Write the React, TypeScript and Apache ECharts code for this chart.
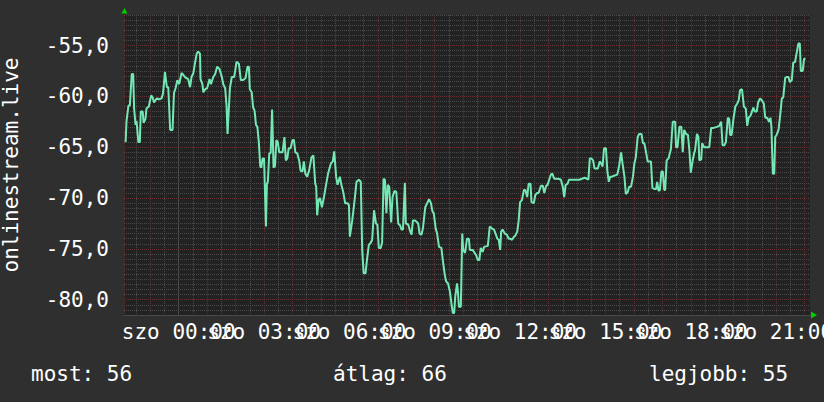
import React, { useEffect, useRef } from "react";
import * as echarts from "echarts";

// minutes relative to Saturday 00:00
const timeMin = [
  -112, -110, -106, -103, -99, -96, -94, -91, -89, -85, -82, -80, -76, -74, -70, -68, -63, -58, -55, -52,
  -48, -45, -41, -36, -33, -29, -25, -22, -18, -13, -10, -6, -3, 1, 6, 10, 13, 20, 24, 27,
  31, 34, 38, 41, 45, 46, 50, 52, 56, 60, 65, 68, 73, 77, 81, 86, 91, 94, 98, 101,
  103, 106, 108, 112, 117, 122, 127, 131, 136, 141, 145, 148, 150, 154, 157, 160, 163, 166, 169, 172,
  174, 177, 180, 184, 186, 188, 191, 194, 197, 200, 203, 206, 209, 212, 219, 223, 226, 229, 232, 236,
  240, 243, 246, 250, 254, 257, 261, 264, 267, 271, 275, 280, 284, 288, 290, 292, 295, 298, 302, 306,
  310, 315, 321, 325, 328, 332, 335, 340, 343, 347, 351, 356, 359, 361, 366, 371, 375, 380, 384, 387,
  390, 394, 397, 401, 405, 408, 412, 416, 419, 422, 426, 429, 432, 435, 438, 441, 444, 448, 451, 455,
  459, 463, 467, 470, 473, 477, 479, 484, 487, 491, 494, 498, 501, 505, 508, 512, 515, 520, 524, 528,
  532, 535, 538, 542, 545, 549, 554, 557, 561, 564, 568, 572, 575, 578, 581, 583, 587, 589, 591, 595,
  598, 600, 604, 608, 612, 614, 620, 627, 631, 634, 637, 641, 644, 652, 656, 661, 665, 669, 672, 675,
  678, 680, 683, 688, 692, 696, 699, 703, 707, 710, 714, 717, 720, 724, 728, 731, 735, 738, 742, 744,
  749, 752, 756, 759, 764, 768, 771, 775, 778, 782, 785, 788, 792, 796, 801, 806, 810, 813, 816, 820,
  823, 830, 836, 845, 856, 861, 864, 867, 870, 874, 877, 884, 888, 891, 894, 897, 901, 904, 907, 910,
  914, 918, 925, 929, 933, 936, 940, 943, 947, 950, 954, 958, 961, 964, 968, 971, 976, 979, 982, 986,
  989, 996, 999, 1003, 1007, 1009, 1012, 1015, 1018, 1021, 1024, 1026, 1029, 1033, 1038, 1042, 1047, 1049, 1052, 1056,
  1060, 1063, 1066, 1070, 1074, 1077, 1080, 1084, 1087, 1089, 1093, 1096, 1098, 1102, 1104, 1108, 1119, 1123, 1128, 1135,
  1140, 1144, 1147, 1151, 1154, 1158, 1161, 1163, 1166, 1170, 1174, 1178, 1181, 1184, 1188, 1192, 1196, 1199, 1202, 1206,
  1209, 1212, 1215, 1219, 1222, 1226, 1230, 1234, 1237, 1241, 1245, 1248, 1250, 1253, 1256, 1258, 1261, 1265, 1268, 1272,
  1275, 1279, 1282, 1286, 1289, 1293, 1296, 1300, 1303, 1307, 1310, 1312, 1316, 1319, 1322,
];

const values = [
  -64.5, -62.4, -60.9, -60.9, -57.8, -57.8, -61.2, -62.8, -62.4, -64.5, -64.5, -61.5, -61.5, -62.6, -62.2, -61.2, -61.0, -59.9, -60.1, -60.6,
  -60.3, -60.2, -60.3, -60.2, -59.7, -57.6, -59.1, -59.1, -63.3, -63.3, -59.7, -59.1, -58.4, -58.8, -57.7, -57.9, -58.1, -58.3, -59.1, -58.1,
  -57.7, -56.8, -55.8, -55.6, -55.8, -58.3, -58.8, -59.6, -59.3, -59.2, -58.3, -58.8, -58.1, -57.8, -57.1, -57.3, -58.1, -58.8, -59.2, -61.0,
  -63.7, -61.0, -59.2, -58.1, -58.1, -56.6, -56.8, -58.4, -58.4, -58.2, -57.1, -57.1, -59.3, -59.6, -61.1, -61.4, -62.8, -63.0, -64.5, -66.9,
  -67.0, -66.1, -66.1, -72.8, -68.6, -68.4, -65.6, -65.6, -61.3, -67.0, -66.9, -64.3, -64.5, -65.5, -65.5, -64.0, -66.3, -66.1, -65.1, -65.1,
  -64.3, -64.3, -65.5, -65.6, -66.3, -67.3, -67.4, -66.4, -67.6, -67.9, -67.3, -66.0, -65.8, -68.6, -68.9, -71.7, -70.2, -70.0, -70.9, -70.0,
  -68.9, -67.6, -66.6, -66.4, -65.4, -67.9, -68.7, -67.9, -68.7, -69.4, -70.5, -70.5, -70.7, -73.8, -72.2, -70.2, -68.4, -68.2, -68.4, -75.1,
  -77.4, -77.4, -76.1, -74.6, -74.4, -74.1, -71.2, -72.5, -72.6, -74.9, -74.9, -74.4, -68.1, -68.2, -71.5, -68.7, -68.9, -72.4, -69.9, -69.3,
  -69.4, -72.5, -72.7, -73.1, -73.1, -68.5, -72.5, -72.6, -73.1, -73.6, -72.2, -72.2, -72.3, -72.5, -73.5, -73.6, -73.0, -70.9, -70.5, -70.1,
  -70.5, -71.3, -71.5, -73.0, -73.5, -74.8, -74.9, -76.1, -77.5, -78.2, -78.4, -79.2, -80.3, -81.3, -81.3, -79.8, -78.4, -79.3, -80.7, -80.7,
  -73.5, -75.1, -75.4, -74.0, -74.0, -75.1, -75.1, -75.6, -76.1, -76.1, -74.9, -75.3, -74.8, -74.7, -72.8, -73.0, -73.1, -73.6, -74.0, -74.1,
  -75.1, -73.3, -73.1, -73.5, -73.6, -74.0, -74.0, -74.1, -73.8, -73.7, -73.3, -72.2, -70.4, -70.2, -69.2, -69.2, -69.9, -68.6, -68.6, -70.4,
  -70.5, -69.7, -69.5, -69.5, -68.8, -68.8, -69.5, -68.8, -68.7, -68.1, -67.7, -67.6, -68.1, -68.1, -68.1, -68.2, -68.9, -69.9, -68.7, -68.6,
  -68.2, -68.2, -68.2, -68.2, -68.0, -68.1, -68.2, -66.1, -66.1, -66.3, -67.1, -67.1, -66.4, -66.6, -66.9, -65.1, -65.1, -67.3, -68.4, -67.9,
  -67.9, -67.8, -67.7, -66.8, -65.5, -66.6, -67.9, -69.6, -69.4, -68.9, -68.9, -67.9, -66.6, -66.0, -64.0, -63.7, -63.7, -64.6, -64.6, -65.6,
  -66.4, -66.4, -69.0, -69.1, -69.1, -68.4, -69.3, -69.2, -67.4, -67.4, -69.2, -69.2, -66.3, -66.1, -65.2, -62.5, -62.5, -65.0, -65.0, -63.0,
  -63.0, -65.5, -63.3, -63.7, -63.8, -65.3, -67.5, -66.3, -65.6, -65.3, -63.7, -64.0, -66.3, -66.2, -64.6, -65.0, -65.0, -63.1, -63.1, -63.0,
  -62.9, -62.5, -64.8, -64.8, -64.5, -62.1, -62.2, -63.8, -63.8, -62.2, -61.0, -60.7, -60.4, -59.4, -59.3, -61.0, -61.2, -62.9, -62.1, -61.9,
  -61.5, -61.1, -61.5, -61.5, -60.6, -60.2, -60.4, -60.7, -62.1, -62.1, -62.5, -62.1, -63.0, -67.6, -67.6, -64.0, -63.8, -63.3, -62.1, -60.2,
  -60.1, -58.2, -58.1, -58.1, -58.6, -58.4, -56.7, -56.6, -55.8, -54.8, -54.8, -57.5, -57.5, -56.3, -56.3,
];

const dayName = "szo";
const hourLabels = [0, 3, 6, 9, 12, 15, 18, 21];
const yAxisTitle = "onlinestream.live";
const footerTexts = ["most: 56", "átlag: 66", "legjobb: 55"];

const X_MIN = -1.9227;
const X_MAX = 22.19;
const Y_MIN = -81.5;
const Y_MAX = -52;

const FONT = "DejaVu Sans Mono";
const RED = "#683030";
const GRAY = "#4a4a4a";

// x ticks every 0.5 h: edge, -1.5, -1.0(major), ... -> even index = whole hour
const xLineColors = [RED, GRAY];
// y ticks every 0.5 from -81.5: index 3 (=-80) major, period 10
const yLineColors = [GRAY, GRAY, GRAY, RED, GRAY, GRAY, GRAY, GRAY, GRAY, GRAY];

export default function App() {
  const ref = useRef<HTMLDivElement>(null);
  useEffect(() => {
    document.body.style.margin = "0";
    document.body.style.background = "#2f2f2f";
    const chart = echarts.init(ref.current!, null, { renderer: "svg" });
    const data = timeMin.map((m, i) => [m / 60, values[i]]);
    const pad = (n: number) => (n < 10 ? "0" + n : "" + n);
    chart.setOption({
      animation: false,
      backgroundColor: "#2f2f2f",
      grid: {
        left: 124,
        top: 15,
        width: 686,
        height: 300,
        show: true,
        backgroundColor: "#222222",
        borderWidth: 0,
        containLabel: false,
        outerBoundsMode: "none",
      },
      xAxis: {
        type: "value",
        min: X_MIN,
        max: X_MAX,
        splitNumber: 48,
        minInterval: 0.5,
        maxInterval: 0.5,
        axisLine: { show: true, lineStyle: { color: "#4a4a4a", width: 1 } },
        axisTick: { show: false },
        splitLine: {
          show: true,
          showMinLine: true,
          showMaxLine: false,
          lineStyle: { color: xLineColors, type: [1, 1], width: 1 },
        },
        axisLabel: {
          show: true,
          showMinLabel: false,
          showMaxLabel: false,
          hideOverlap: false,
          color: "#ffffff",
          fontFamily: FONT,
          fontSize: 21,
          margin: 6,
          formatter: (v: number) => {
            const r = Math.round(v);
            if (Math.abs(v - r) > 1e-6) return "";
            if (hourLabels.indexOf(r) < 0) return "";
            return dayName + " " + pad(r) + ":00";
          },
        },
      },
      yAxis: {
        type: "value",
        min: Y_MIN,
        max: Y_MAX,
        splitNumber: 59,
        minInterval: 0.5,
        maxInterval: 0.5,
        axisLine: { show: true, lineStyle: { color: "#4a4a4a", width: 1 } },
        axisTick: { show: false },
        splitLine: {
          show: true,
          showMinLine: true,
          showMaxLine: true,
          lineStyle: { color: yLineColors, type: [1, 1], width: 1 },
        },
        axisLabel: {
          show: true,
          showMinLabel: false,
          showMaxLabel: false,
          color: "#ffffff",
          fontFamily: FONT,
          fontSize: 21,
          margin: 15,
          formatter: (v: number) => {
            if (Math.abs(v / 5 - Math.round(v / 5)) > 1e-6) return "";
            return v.toFixed(1).replace(".", ",");
          },
        },
      },
      series: [
        {
          type: "line",
          data,
          showSymbol: false,
          symbol: "none",
          z: 3,
          lineStyle: { color: "#74e8b4", width: 2 },
        },
      ],
      graphic: [
        {
          type: "polygon",
          shape: { points: [[121.5, 13.5], [127.5, 13.5], [124.5, 8]] },
          style: { fill: "#00d000" },
        },
        {
          type: "polygon",
          shape: { points: [[811, 311.5], [811, 318.5], [817, 315]] },
          style: { fill: "#00d000" },
        },
        {
          type: "text",
          x: 11,
          y: 165,
          rotation: Math.PI / 2,
          style: {
            text: yAxisTitle,
            fill: "#ffffff",
            font: `21px '${FONT}'`,
            textAlign: "center",
            textVerticalAlign: "middle",
          },
        },
        {
          type: "text",
          x: 31,
          y: 374,
          style: { text: footerTexts[0], fill: "#ffffff", font: `21px '${FONT}'`, textAlign: "left", textVerticalAlign: "middle" },
        },
        {
          type: "text",
          x: 333,
          y: 374,
          style: { text: footerTexts[1], fill: "#ffffff", font: `21px '${FONT}'`, textAlign: "left", textVerticalAlign: "middle" },
        },
        {
          type: "text",
          x: 649,
          y: 374,
          style: { text: footerTexts[2], fill: "#ffffff", font: `21px '${FONT}'`, textAlign: "left", textVerticalAlign: "middle" },
        },
      ],
    });
    return () => chart.dispose();
  }, []);
  return <div ref={ref} style={{ width: 824, height: 402 }} />;
}
